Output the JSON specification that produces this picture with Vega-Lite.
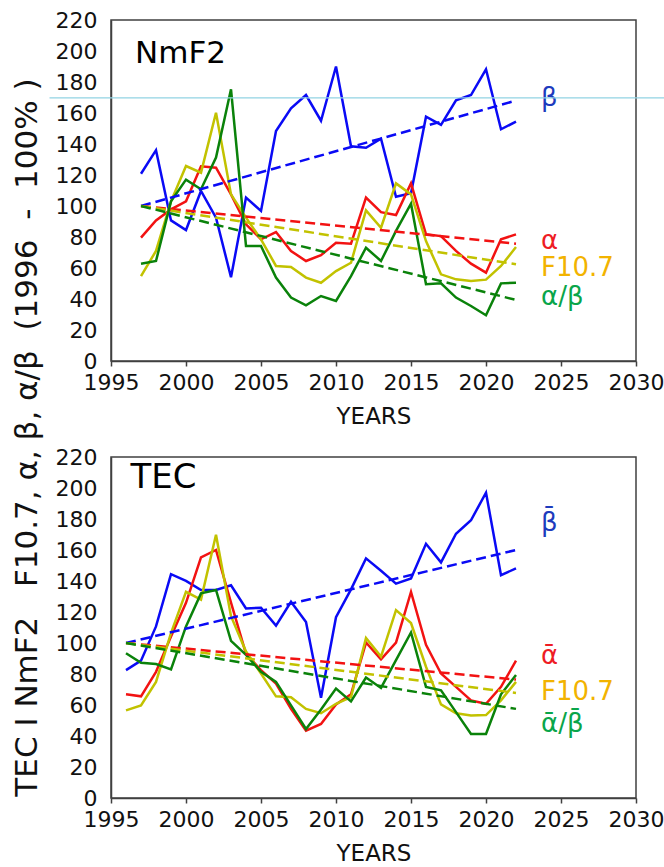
{
  "$schema": "https://vega.github.io/schema/vega-lite/v6.json",
  "background": "white",
  "padding": {"left": 10, "top": 8, "right": 0, "bottom": 0},
  "autosize": {"type": "pad"},
  "config": {
    "font": "DejaVu Sans",
    "view": {"stroke": "#404040", "strokeWidth": 1.5},
    "axis": {
      "grid": false,
      "domainColor": "#404040",
      "domainWidth": 1.5,
      "tickColor": "#404040",
      "tickWidth": 1.5,
      "labelFont": "DejaVu Sans",
      "labelFontSize": 22,
      "labelColor": "#111111",
      "labelOverlap": false,
      "labelSeparation": 0,
      "titleFont": "DejaVu Sans",
      "titleFontWeight": "normal",
      "titleColor": "#111111"
    },
    "axisX": {"tickSize": 5, "labelPadding": 6, "titleFontSize": 23, "titlePadding": 12, "labelFlush": false},
    "axisY": {"ticks": false, "labelPadding": 14, "labelOverlap": false}
  },
  "datasets": {
    "series": [
      {"panel": "NmF2", "series": "beta", "year": 1997, "value": 120.8},
      {"panel": "NmF2", "series": "beta", "year": 1998, "value": 136},
      {"panel": "NmF2", "series": "beta", "year": 1999, "value": 90.7},
      {"panel": "NmF2", "series": "beta", "year": 2000, "value": 84.5},
      {"panel": "NmF2", "series": "beta", "year": 2001, "value": 109.7},
      {"panel": "NmF2", "series": "beta", "year": 2002, "value": 92.5},
      {"panel": "NmF2", "series": "beta", "year": 2003, "value": 54},
      {"panel": "NmF2", "series": "beta", "year": 2004, "value": 105.4},
      {"panel": "NmF2", "series": "beta", "year": 2005, "value": 96.8},
      {"panel": "NmF2", "series": "beta", "year": 2006, "value": 148.4},
      {"panel": "NmF2", "series": "beta", "year": 2007, "value": 163},
      {"panel": "NmF2", "series": "beta", "year": 2008, "value": 171.6},
      {"panel": "NmF2", "series": "beta", "year": 2009, "value": 155},
      {"panel": "NmF2", "series": "beta", "year": 2010, "value": 190},
      {"panel": "NmF2", "series": "beta", "year": 2011, "value": 138.5},
      {"panel": "NmF2", "series": "beta", "year": 2012, "value": 137.6},
      {"panel": "NmF2", "series": "beta", "year": 2013, "value": 143.4},
      {"panel": "NmF2", "series": "beta", "year": 2014, "value": 106},
      {"panel": "NmF2", "series": "beta", "year": 2015, "value": 108.2},
      {"panel": "NmF2", "series": "beta", "year": 2016, "value": 157.6},
      {"panel": "NmF2", "series": "beta", "year": 2017, "value": 152.3},
      {"panel": "NmF2", "series": "beta", "year": 2018, "value": 168.2},
      {"panel": "NmF2", "series": "beta", "year": 2019, "value": 171.6},
      {"panel": "NmF2", "series": "beta", "year": 2020, "value": 188.2},
      {"panel": "NmF2", "series": "beta", "year": 2021, "value": 149.5},
      {"panel": "NmF2", "series": "beta", "year": 2022, "value": 154.4},

      {"panel": "NmF2", "series": "alpha", "year": 1997, "value": 79.6},
      {"panel": "NmF2", "series": "alpha", "year": 1998, "value": 90.7},
      {"panel": "NmF2", "series": "alpha", "year": 1999, "value": 97.8},
      {"panel": "NmF2", "series": "alpha", "year": 2000, "value": 103},
      {"panel": "NmF2", "series": "alpha", "year": 2001, "value": 125.6},
      {"panel": "NmF2", "series": "alpha", "year": 2002, "value": 124.7},
      {"panel": "NmF2", "series": "alpha", "year": 2003, "value": 107.5},
      {"panel": "NmF2", "series": "alpha", "year": 2004, "value": 88.2},
      {"panel": "NmF2", "series": "alpha", "year": 2005, "value": 78.5},
      {"panel": "NmF2", "series": "alpha", "year": 2006, "value": 83.2},
      {"panel": "NmF2", "series": "alpha", "year": 2007, "value": 71},
      {"panel": "NmF2", "series": "alpha", "year": 2008, "value": 64.5},
      {"panel": "NmF2", "series": "alpha", "year": 2009, "value": 68.3},
      {"panel": "NmF2", "series": "alpha", "year": 2010, "value": 76.3},
      {"panel": "NmF2", "series": "alpha", "year": 2011, "value": 75.7},
      {"panel": "NmF2", "series": "alpha", "year": 2012, "value": 105.4},
      {"panel": "NmF2", "series": "alpha", "year": 2013, "value": 96},
      {"panel": "NmF2", "series": "alpha", "year": 2014, "value": 94.2},
      {"panel": "NmF2", "series": "alpha", "year": 2015, "value": 114.6},
      {"panel": "NmF2", "series": "alpha", "year": 2016, "value": 81.7},
      {"panel": "NmF2", "series": "alpha", "year": 2017, "value": 80.6},
      {"panel": "NmF2", "series": "alpha", "year": 2018, "value": 71},
      {"panel": "NmF2", "series": "alpha", "year": 2019, "value": 62.8},
      {"panel": "NmF2", "series": "alpha", "year": 2020, "value": 57},
      {"panel": "NmF2", "series": "alpha", "year": 2021, "value": 78.5},
      {"panel": "NmF2", "series": "alpha", "year": 2022, "value": 81.7},

      {"panel": "NmF2", "series": "F10.7", "year": 1997, "value": 54.8},
      {"panel": "NmF2", "series": "F10.7", "year": 1998, "value": 71},
      {"panel": "NmF2", "series": "F10.7", "year": 1999, "value": 103},
      {"panel": "NmF2", "series": "F10.7", "year": 2000, "value": 125.8},
      {"panel": "NmF2", "series": "F10.7", "year": 2001, "value": 121.5},
      {"panel": "NmF2", "series": "F10.7", "year": 2002, "value": 160.2},
      {"panel": "NmF2", "series": "F10.7", "year": 2003, "value": 107.5},
      {"panel": "NmF2", "series": "F10.7", "year": 2004, "value": 92.5},
      {"panel": "NmF2", "series": "F10.7", "year": 2005, "value": 78.5},
      {"panel": "NmF2", "series": "F10.7", "year": 2006, "value": 61.3},
      {"panel": "NmF2", "series": "F10.7", "year": 2007, "value": 60.6},
      {"panel": "NmF2", "series": "F10.7", "year": 2008, "value": 53.8},
      {"panel": "NmF2", "series": "F10.7", "year": 2009, "value": 50.5},
      {"panel": "NmF2", "series": "F10.7", "year": 2010, "value": 58},
      {"panel": "NmF2", "series": "F10.7", "year": 2011, "value": 63.4},
      {"panel": "NmF2", "series": "F10.7", "year": 2012, "value": 97.2},
      {"panel": "NmF2", "series": "F10.7", "year": 2013, "value": 86},
      {"panel": "NmF2", "series": "F10.7", "year": 2014, "value": 114.6},
      {"panel": "NmF2", "series": "F10.7", "year": 2015, "value": 107.5},
      {"panel": "NmF2", "series": "F10.7", "year": 2016, "value": 77.4},
      {"panel": "NmF2", "series": "F10.7", "year": 2017, "value": 55.9},
      {"panel": "NmF2", "series": "F10.7", "year": 2018, "value": 52.7},
      {"panel": "NmF2", "series": "F10.7", "year": 2019, "value": 51.6},
      {"panel": "NmF2", "series": "F10.7", "year": 2020, "value": 52.5},
      {"panel": "NmF2", "series": "F10.7", "year": 2021, "value": 61.3},
      {"panel": "NmF2", "series": "F10.7", "year": 2022, "value": 73.5},

      {"panel": "NmF2", "series": "alpha/beta", "year": 1997, "value": 62.8},
      {"panel": "NmF2", "series": "alpha/beta", "year": 1998, "value": 64.5},
      {"panel": "NmF2", "series": "alpha/beta", "year": 1999, "value": 103},
      {"panel": "NmF2", "series": "alpha/beta", "year": 2000, "value": 117},
      {"panel": "NmF2", "series": "alpha/beta", "year": 2001, "value": 110.8},
      {"panel": "NmF2", "series": "alpha/beta", "year": 2002, "value": 131.2},
      {"panel": "NmF2", "series": "alpha/beta", "year": 2003, "value": 175.3},
      {"panel": "NmF2", "series": "alpha/beta", "year": 2004, "value": 74.2},
      {"panel": "NmF2", "series": "alpha/beta", "year": 2005, "value": 74.2},
      {"panel": "NmF2", "series": "alpha/beta", "year": 2006, "value": 53.8},
      {"panel": "NmF2", "series": "alpha/beta", "year": 2007, "value": 40.9},
      {"panel": "NmF2", "series": "alpha/beta", "year": 2008, "value": 35.9},
      {"panel": "NmF2", "series": "alpha/beta", "year": 2009, "value": 41.9},
      {"panel": "NmF2", "series": "alpha/beta", "year": 2010, "value": 38.7},
      {"panel": "NmF2", "series": "alpha/beta", "year": 2011, "value": 54.8},
      {"panel": "NmF2", "series": "alpha/beta", "year": 2012, "value": 73.1},
      {"panel": "NmF2", "series": "alpha/beta", "year": 2013, "value": 64.5},
      {"panel": "NmF2", "series": "alpha/beta", "year": 2014, "value": 83.9},
      {"panel": "NmF2", "series": "alpha/beta", "year": 2015, "value": 101.5},
      {"panel": "NmF2", "series": "alpha/beta", "year": 2016, "value": 49.5},
      {"panel": "NmF2", "series": "alpha/beta", "year": 2017, "value": 50.1},
      {"panel": "NmF2", "series": "alpha/beta", "year": 2018, "value": 40.9},
      {"panel": "NmF2", "series": "alpha/beta", "year": 2019, "value": 35.5},
      {"panel": "NmF2", "series": "alpha/beta", "year": 2020, "value": 29.5},
      {"panel": "NmF2", "series": "alpha/beta", "year": 2021, "value": 50.1},
      {"panel": "NmF2", "series": "alpha/beta", "year": 2022, "value": 50.5},

      {"panel": "TEC", "series": "beta", "year": 1996, "value": 82.5},
      {"panel": "TEC", "series": "beta", "year": 1997, "value": 88.6},
      {"panel": "TEC", "series": "beta", "year": 1998, "value": 110.7},
      {"panel": "TEC", "series": "beta", "year": 1999, "value": 144.4},
      {"panel": "TEC", "series": "beta", "year": 2000, "value": 140.1},
      {"panel": "TEC", "series": "beta", "year": 2001, "value": 134.2},
      {"panel": "TEC", "series": "beta", "year": 2002, "value": 134.2},
      {"panel": "TEC", "series": "beta", "year": 2003, "value": 137.2},
      {"panel": "TEC", "series": "beta", "year": 2004, "value": 122.3},
      {"panel": "TEC", "series": "beta", "year": 2005, "value": 122.7},
      {"panel": "TEC", "series": "beta", "year": 2006, "value": 111.2},
      {"panel": "TEC", "series": "beta", "year": 2007, "value": 126.6},
      {"panel": "TEC", "series": "beta", "year": 2008, "value": 113.6},
      {"panel": "TEC", "series": "beta", "year": 2009, "value": 64.7},
      {"panel": "TEC", "series": "beta", "year": 2010, "value": 116.6},
      {"panel": "TEC", "series": "beta", "year": 2011, "value": 134.6},
      {"panel": "TEC", "series": "beta", "year": 2012, "value": 154.6},
      {"panel": "TEC", "series": "beta", "year": 2013, "value": 146.6},
      {"panel": "TEC", "series": "beta", "year": 2014, "value": 138.3},
      {"panel": "TEC", "series": "beta", "year": 2015, "value": 141.6},
      {"panel": "TEC", "series": "beta", "year": 2016, "value": 164},
      {"panel": "TEC", "series": "beta", "year": 2017, "value": 152},
      {"panel": "TEC", "series": "beta", "year": 2018, "value": 170.5},
      {"panel": "TEC", "series": "beta", "year": 2019, "value": 179.2},
      {"panel": "TEC", "series": "beta", "year": 2020, "value": 197},
      {"panel": "TEC", "series": "beta", "year": 2021, "value": 143.8},
      {"panel": "TEC", "series": "beta", "year": 2022, "value": 148.1},

      {"panel": "TEC", "series": "alpha", "year": 1996, "value": 66.9},
      {"panel": "TEC", "series": "alpha", "year": 1997, "value": 65.6},
      {"panel": "TEC", "series": "alpha", "year": 1998, "value": 81.4},
      {"panel": "TEC", "series": "alpha", "year": 1999, "value": 104.2},
      {"panel": "TEC", "series": "alpha", "year": 2000, "value": 125.9},
      {"panel": "TEC", "series": "alpha", "year": 2001, "value": 155.3},
      {"panel": "TEC", "series": "alpha", "year": 2002, "value": 160},
      {"panel": "TEC", "series": "alpha", "year": 2003, "value": 126},
      {"panel": "TEC", "series": "alpha", "year": 2004, "value": 93},
      {"panel": "TEC", "series": "alpha", "year": 2005, "value": 82.5},
      {"panel": "TEC", "series": "alpha", "year": 2006, "value": 73.8},
      {"panel": "TEC", "series": "alpha", "year": 2007, "value": 57.5},
      {"panel": "TEC", "series": "alpha", "year": 2008, "value": 43.4},
      {"panel": "TEC", "series": "alpha", "year": 2009, "value": 47.8},
      {"panel": "TEC", "series": "alpha", "year": 2010, "value": 60.4},
      {"panel": "TEC", "series": "alpha", "year": 2011, "value": 66.9},
      {"panel": "TEC", "series": "alpha", "year": 2012, "value": 100.3},
      {"panel": "TEC", "series": "alpha", "year": 2013, "value": 89.5},
      {"panel": "TEC", "series": "alpha", "year": 2014, "value": 100.3},
      {"panel": "TEC", "series": "alpha", "year": 2015, "value": 132.9},
      {"panel": "TEC", "series": "alpha", "year": 2016, "value": 98.8},
      {"panel": "TEC", "series": "alpha", "year": 2017, "value": 80.3},
      {"panel": "TEC", "series": "alpha", "year": 2018, "value": 71.7},
      {"panel": "TEC", "series": "alpha", "year": 2019, "value": 63},
      {"panel": "TEC", "series": "alpha", "year": 2020, "value": 60.8},
      {"panel": "TEC", "series": "alpha", "year": 2021, "value": 71.7},
      {"panel": "TEC", "series": "alpha", "year": 2022, "value": 88.6},

      {"panel": "TEC", "series": "F10.7", "year": 1996, "value": 56.5},
      {"panel": "TEC", "series": "F10.7", "year": 1997, "value": 59.7},
      {"panel": "TEC", "series": "F10.7", "year": 1998, "value": 74.9},
      {"panel": "TEC", "series": "F10.7", "year": 1999, "value": 106.4},
      {"panel": "TEC", "series": "F10.7", "year": 2000, "value": 133},
      {"panel": "TEC", "series": "F10.7", "year": 2001, "value": 128},
      {"panel": "TEC", "series": "F10.7", "year": 2002, "value": 169.8},
      {"panel": "TEC", "series": "F10.7", "year": 2003, "value": 117.3},
      {"panel": "TEC", "series": "F10.7", "year": 2004, "value": 94.5},
      {"panel": "TEC", "series": "F10.7", "year": 2005, "value": 80.3},
      {"panel": "TEC", "series": "F10.7", "year": 2006, "value": 65.6},
      {"panel": "TEC", "series": "F10.7", "year": 2007, "value": 65},
      {"panel": "TEC", "series": "F10.7", "year": 2008, "value": 57.5},
      {"panel": "TEC", "series": "F10.7", "year": 2009, "value": 54.7},
      {"panel": "TEC", "series": "F10.7", "year": 2010, "value": 60.8},
      {"panel": "TEC", "series": "F10.7", "year": 2011, "value": 65.1},
      {"panel": "TEC", "series": "F10.7", "year": 2012, "value": 103.2},
      {"panel": "TEC", "series": "F10.7", "year": 2013, "value": 91.2},
      {"panel": "TEC", "series": "F10.7", "year": 2014, "value": 121.2},
      {"panel": "TEC", "series": "F10.7", "year": 2015, "value": 112.9},
      {"panel": "TEC", "series": "F10.7", "year": 2016, "value": 84.7},
      {"panel": "TEC", "series": "F10.7", "year": 2017, "value": 60.4},
      {"panel": "TEC", "series": "F10.7", "year": 2018, "value": 54.7},
      {"panel": "TEC", "series": "F10.7", "year": 2019, "value": 53.2},
      {"panel": "TEC", "series": "F10.7", "year": 2020, "value": 53.5},
      {"panel": "TEC", "series": "F10.7", "year": 2021, "value": 63},
      {"panel": "TEC", "series": "F10.7", "year": 2022, "value": 74.9},

      {"panel": "TEC", "series": "alpha/beta", "year": 1996, "value": 93.4},
      {"panel": "TEC", "series": "alpha/beta", "year": 1997, "value": 87.3},
      {"panel": "TEC", "series": "alpha/beta", "year": 1998, "value": 86.4},
      {"panel": "TEC", "series": "alpha/beta", "year": 1999, "value": 83},
      {"panel": "TEC", "series": "alpha/beta", "year": 2000, "value": 110.7},
      {"panel": "TEC", "series": "alpha/beta", "year": 2001, "value": 132},
      {"panel": "TEC", "series": "alpha/beta", "year": 2002, "value": 134.2},
      {"panel": "TEC", "series": "alpha/beta", "year": 2003, "value": 101.4},
      {"panel": "TEC", "series": "alpha/beta", "year": 2004, "value": 92.3},
      {"panel": "TEC", "series": "alpha/beta", "year": 2005, "value": 81.4},
      {"panel": "TEC", "series": "alpha/beta", "year": 2006, "value": 74.9},
      {"panel": "TEC", "series": "alpha/beta", "year": 2007, "value": 59.8},
      {"panel": "TEC", "series": "alpha/beta", "year": 2008, "value": 44.5},
      {"panel": "TEC", "series": "alpha/beta", "year": 2009, "value": 57.1},
      {"panel": "TEC", "series": "alpha/beta", "year": 2010, "value": 70.6},
      {"panel": "TEC", "series": "alpha/beta", "year": 2011, "value": 62.3},
      {"panel": "TEC", "series": "alpha/beta", "year": 2012, "value": 77.7},
      {"panel": "TEC", "series": "alpha/beta", "year": 2013, "value": 71},
      {"panel": "TEC", "series": "alpha/beta", "year": 2014, "value": 89},
      {"panel": "TEC", "series": "alpha/beta", "year": 2015, "value": 106.8},
      {"panel": "TEC", "series": "alpha/beta", "year": 2016, "value": 71.7},
      {"panel": "TEC", "series": "alpha/beta", "year": 2017, "value": 69.5},
      {"panel": "TEC", "series": "alpha/beta", "year": 2018, "value": 55.4},
      {"panel": "TEC", "series": "alpha/beta", "year": 2019, "value": 41.3},
      {"panel": "TEC", "series": "alpha/beta", "year": 2020, "value": 41.3},
      {"panel": "TEC", "series": "alpha/beta", "year": 2021, "value": 66.9},
      {"panel": "TEC", "series": "alpha/beta", "year": 2022, "value": 79.3}
    ],
    "trends": [
      {"panel": "NmF2", "series": "beta", "year": 1997, "value": 100},
      {"panel": "NmF2", "series": "beta", "year": 2022, "value": 168},
      {"panel": "NmF2", "series": "alpha", "year": 1997, "value": 100},
      {"panel": "NmF2", "series": "alpha", "year": 2022, "value": 75.7},
      {"panel": "NmF2", "series": "F10.7", "year": 1997, "value": 100},
      {"panel": "NmF2", "series": "F10.7", "year": 2022, "value": 62.4},
      {"panel": "NmF2", "series": "alpha/beta", "year": 1997, "value": 100},
      {"panel": "NmF2", "series": "alpha/beta", "year": 2022, "value": 39.4},
      {"panel": "TEC", "series": "beta", "year": 1996, "value": 100},
      {"panel": "TEC", "series": "beta", "year": 2022, "value": 160},
      {"panel": "TEC", "series": "alpha", "year": 1996, "value": 100},
      {"panel": "TEC", "series": "alpha", "year": 2022, "value": 76.4},
      {"panel": "TEC", "series": "F10.7", "year": 1996, "value": 100},
      {"panel": "TEC", "series": "F10.7", "year": 2022, "value": 67.8},
      {"panel": "TEC", "series": "alpha/beta", "year": 1996, "value": 100},
      {"panel": "TEC", "series": "alpha/beta", "year": 2022, "value": 57.5}
    ],
    "labels": [
      {"panel": "NmF2", "series": "beta", "text": "β", "year": 2022, "value": 164.5},
      {"panel": "NmF2", "series": "alpha", "text": "α", "year": 2022, "value": 72.3},
      {"panel": "NmF2", "series": "F10.7", "text": "F10.7", "year": 2022, "value": 54.8},
      {"panel": "NmF2", "series": "alpha/beta", "text": "α/β", "year": 2022, "value": 36.1},
      {"panel": "TEC", "series": "beta", "text": "β\u0304", "year": 2022, "value": 172.3},
      {"panel": "TEC", "series": "alpha", "text": "α\u0304", "year": 2022, "value": 86.6},
      {"panel": "TEC", "series": "F10.7", "text": "F10.7", "year": 2022, "value": 63.2},
      {"panel": "TEC", "series": "alpha/beta", "text": "α\u0304/β\u0304", "year": 2022, "value": 42.3}
    ]
  },
  "spacing": 96,
  "bounds": "flush",
  "vconcat": [
    {
      "width": 525,
      "height": 341,
      "layer": [
        {
          "encoding": {
            "x": {
              "field": "year", "type": "quantitative",
              "scale": {"domain": [1995, 2030], "nice": false, "zero": false},
              "axis": {"title": "YEARS", "values": [1995, 2000, 2005, 2010, 2015, 2020, 2025, 2030], "format": "d", "labelOverlap": false}
            },
            "y": {
              "field": "value", "type": "quantitative",
              "scale": {"domain": [0, 220], "nice": false},
              "axis": {
                "values": [0, 20, 40, 60, 80, 100, 120, 140, 160, 180, 200, 220],
                "labelOverlap": false,
                "title": "TEC I NmF2\u00a0\u00a0\u00a0F10.7, α, β, α/β\u00a0\u00a0(1996\u00a0\u00a0-\u00a0\u00a0100%\u00a0)",
                "titleFontSize": 31,
                "titleAngle": 270,
                "titleX": -84,
                "titleY": 417,
                "titleAlign": "center",
                "titleBaseline": "middle"
              }
            }
          },
          "layer": [
            {
              "data": {"name": "series"},
              "transform": [{"filter": "datum.panel === 'NmF2'"}],
              "mark": {"type": "line", "strokeWidth": 2.5},
              "encoding": {
                "color": {
                  "field": "series", "type": "nominal",
                  "scale": {"domain": ["beta", "alpha", "F10.7", "alpha/beta"], "range": ["#0a0af5", "#f21212", "#c2c200", "#0a820a"]},
                  "legend": null
                }
              }
            },
            {
              "data": {"name": "trends"},
              "transform": [{"filter": "datum.panel === 'NmF2'"}],
              "mark": {"type": "line", "strokeWidth": 2.5, "strokeDash": [10, 5]},
              "encoding": {
                "color": {"field": "series", "type": "nominal", "legend": null}
              }
            },
            {
              "data": {"name": "labels"},
              "transform": [{"filter": "datum.panel === 'NmF2'"}],
              "mark": {"type": "text", "align": "left", "baseline": "alphabetic", "dx": 25, "fontSize": 26, "font": "DejaVu Sans"},
              "encoding": {
                "text": {"field": "text"},
                "fill": {
                  "field": "series", "type": "nominal",
                  "scale": {"domain": ["beta", "alpha", "F10.7", "alpha/beta"], "range": ["#1d3bbd", "#ee1c24", "#f2b300", "#0aa54a"]},
                  "legend": null
                }
              }
            }
          ]
        },
        {
          "data": {"values": [{}]},
          "mark": {"type": "rule", "color": "#92d3e3", "strokeWidth": 1.2, "clip": false},
          "encoding": {
            "x": {"datum": 1990.9, "type": "quantitative", "scale": {"domain": [1995, 2030], "nice": false, "zero": false},
                  "axis": {"values": [1995, 2000, 2005, 2010, 2015, 2020, 2025, 2030], "format": "d", "labelOverlap": false}},
            "x2": {"datum": 2032.1},
            "y": {"datum": 169.7, "type": "quantitative", "scale": {"domain": [0, 220], "nice": false},
                  "axis": {"values": [0, 20, 40, 60, 80, 100, 120, 140, 160, 180, 200, 220], "labelOverlap": false}}
          }
        },
        {
          "data": {"values": [{}]},
          "mark": {"type": "text", "align": "left", "baseline": "alphabetic", "fontSize": 31, "font": "DejaVu Sans", "color": "#000000"},
          "encoding": {
            "x": {"datum": 1996.6, "type": "quantitative", "scale": {"domain": [1995, 2030], "nice": false, "zero": false},
                  "axis": {"values": [1995, 2000, 2005, 2010, 2015, 2020, 2025, 2030], "format": "d", "labelOverlap": false}},
            "y": {"datum": 192, "type": "quantitative", "scale": {"domain": [0, 220], "nice": false},
                  "axis": {"values": [0, 20, 40, 60, 80, 100, 120, 140, 160, 180, 200, 220], "labelOverlap": false}},
            "text": {"value": "NmF2"}
          }
        }
      ]
    },
    {
      "width": 525,
      "height": 341,
      "layer": [
        {
          "encoding": {
            "x": {
              "field": "year", "type": "quantitative",
              "scale": {"domain": [1995, 2030], "nice": false, "zero": false},
              "axis": {"title": "YEARS", "values": [1995, 2000, 2005, 2010, 2015, 2020, 2025, 2030], "format": "d", "labelOverlap": false}
            },
            "y": {
              "field": "value", "type": "quantitative",
              "scale": {"domain": [0, 220], "nice": false},
              "axis": {"values": [0, 20, 40, 60, 80, 100, 120, 140, 160, 180, 200, 220], "labelOverlap": false, "title": null}
            }
          },
          "layer": [
            {
              "data": {"name": "series"},
              "transform": [{"filter": "datum.panel === 'TEC'"}],
              "mark": {"type": "line", "strokeWidth": 2.5},
              "encoding": {
                "color": {
                  "field": "series", "type": "nominal",
                  "scale": {"domain": ["beta", "alpha", "F10.7", "alpha/beta"], "range": ["#0a0af5", "#f21212", "#c2c200", "#0a820a"]},
                  "legend": null
                }
              }
            },
            {
              "data": {"name": "trends"},
              "transform": [{"filter": "datum.panel === 'TEC'"}],
              "mark": {"type": "line", "strokeWidth": 2.5, "strokeDash": [10, 5]},
              "encoding": {
                "color": {"field": "series", "type": "nominal", "legend": null}
              }
            },
            {
              "data": {"name": "labels"},
              "transform": [{"filter": "datum.panel === 'TEC'"}],
              "mark": {"type": "text", "align": "left", "baseline": "alphabetic", "dx": 25, "fontSize": 26, "font": "DejaVu Sans"},
              "encoding": {
                "text": {"field": "text"},
                "fill": {
                  "field": "series", "type": "nominal",
                  "scale": {"domain": ["beta", "alpha", "F10.7", "alpha/beta"], "range": ["#1d3bbd", "#ee1c24", "#f2b300", "#0aa54a"]},
                  "legend": null
                }
              }
            }
          ]
        },
        {
          "data": {"values": [{}]},
          "mark": {"type": "text", "align": "left", "baseline": "alphabetic", "fontSize": 34, "font": "DejaVu Sans", "color": "#000000"},
          "encoding": {
            "x": {"datum": 1996.3, "type": "quantitative", "scale": {"domain": [1995, 2030], "nice": false, "zero": false},
                  "axis": {"values": [1995, 2000, 2005, 2010, 2015, 2020, 2025, 2030], "format": "d", "labelOverlap": false}},
            "y": {"datum": 200, "type": "quantitative", "scale": {"domain": [0, 220], "nice": false},
                  "axis": {"values": [0, 20, 40, 60, 80, 100, 120, 140, 160, 180, 200, 220], "labelOverlap": false}},
            "text": {"value": "TEC"}
          }
        }
      ]
    }
  ]
}
